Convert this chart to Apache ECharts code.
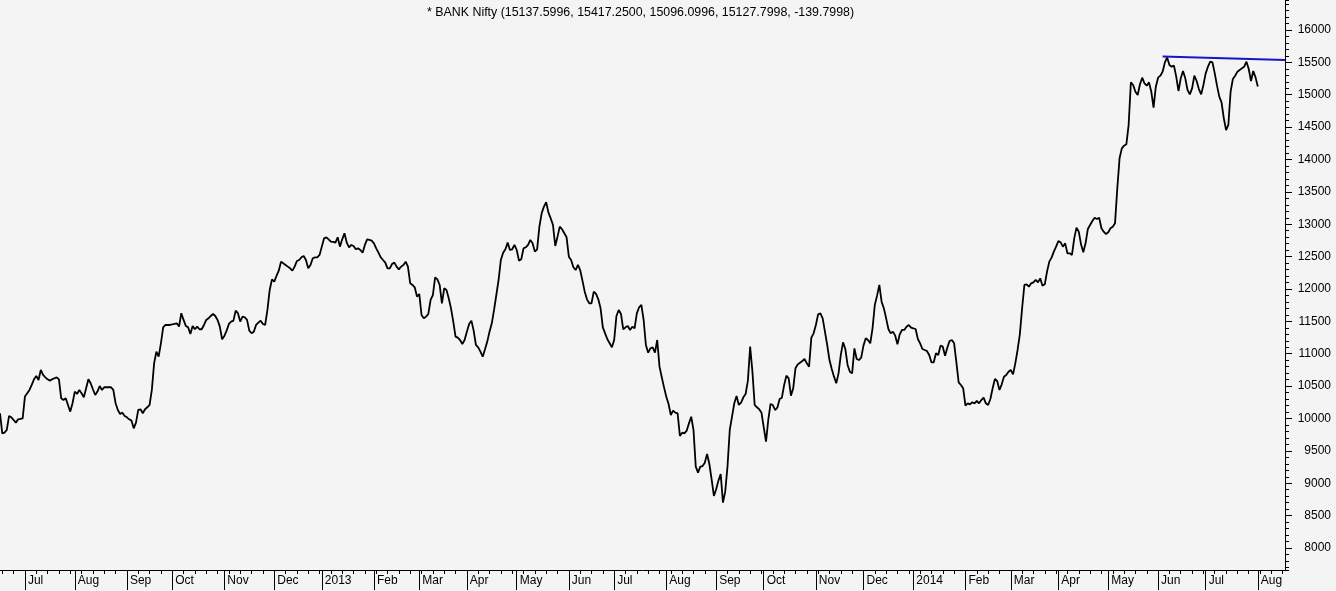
<!DOCTYPE html>
<html><head><meta charset="utf-8">
<script src="https://cdn.jsdelivr.net/npm/echarts@6/dist/echarts.min.js"></script>
<style>html,body{margin:0;padding:0;background:#f4f4f4;}#c{width:1336px;height:591px;}</style>
</head><body><div id="c"></div>
<script>
const titleText = '* BANK Nifty (15137.5996, 15417.2500, 15096.0996, 15127.7998, -139.7998)';
const firstDay = '2012-06-15';
const dayCount = 568;
const monthNames = ['Jan','Feb','Mar','Apr','May','Jun','Jul','Aug','Sep','Oct','Nov','Dec'];
const closes = [
10080,9771,9782,9823,10039,10018,9977,9936,9987,9993,
10003,10338,10389,10441,10518,10605,10657,10595,10749,10672,
10636,10605,10585,10605,10621,10636,10605,10312,10286,10312,
10209,10106,10235,10415,10379,10441,10389,10327,10466,10605,
10544,10451,10363,10415,10502,10441,10482,10482,10482,10482,
10441,10235,10132,10070,10090,10039,10018,9987,9967,9848,
9936,10132,10142,10080,10142,10173,10209,10441,10852,11033,
10955,11161,11408,11444,11444,11444,11455,11460,11470,11419,
11625,11522,11429,11408,11306,11429,11378,11419,11378,11378,
11444,11522,11547,11583,11614,11583,11522,11419,11223,11275,
11357,11460,11496,11511,11666,11625,11496,11573,11563,11522,
11357,11316,11341,11444,11480,11511,11460,11444,11676,11985,
12149,12113,12201,12283,12422,12396,12371,12345,12319,12283,
12345,12432,12448,12489,12510,12448,12319,12371,12474,12489,
12489,12525,12654,12782,12798,12767,12731,12726,12716,12798,
12654,12767,12860,12716,12644,12680,12664,12613,12628,12602,
12561,12680,12767,12757,12746,12705,12628,12561,12489,12448,
12407,12319,12319,12386,12407,12345,12304,12345,12371,12422,
12345,12087,12062,12026,11882,11923,11598,11547,11573,11614,
11830,11907,12180,12149,12062,11779,12010,11985,11856,11701,
11495,11264,11248,11212,11151,11212,11341,11460,11511,11357,
11135,11099,11032,10955,11068,11187,11341,11470,11676,11907,
12139,12448,12561,12613,12716,12602,12613,12680,12602,12438,
12458,12628,12644,12680,12757,12705,12577,12613,12963,13169,
13272,13340,13179,13091,12988,12664,12808,12963,12922,12860,
12798,12499,12448,12335,12293,12371,12293,12129,11959,11840,
11779,11779,11959,11923,11840,11701,11408,11315,11223,11161,
11099,11212,11583,11676,11614,11377,11408,11429,11367,11418,
11393,11624,11717,11753,11521,11135,11017,11084,11099,11017,
11212,10800,10636,10481,10337,10224,10054,10121,10090,10080,
9730,9781,9771,9812,9925,10028,9822,9256,9163,9256,
9266,9318,9452,9297,9060,8803,8906,9040,9143,8700,
8870,9256,9822,10028,10234,10347,10209,10245,10327,10378,
10584,11109,10723,10209,10173,10142,10090,9864,9642,9977,
10224,10208,10131,10167,10301,10321,10517,10661,10620,10352,
10466,10775,10836,10862,10888,10919,10852,10800,11248,11315,
11444,11609,11624,11547,11341,11135,10903,10764,10646,10543,
10697,10981,11176,11073,10826,10723,10697,11083,10919,10903,
10939,11125,11238,11212,11161,11392,11753,11897,12062,11804,
11701,11547,11382,11315,11341,11279,11145,11300,11367,11367,
11418,11444,11403,11392,11382,11228,11161,11073,11058,11042,
10980,10867,10867,11006,10980,11125,11109,10970,11094,11197,
11212,11161,10867,10558,10517,10466,10198,10234,10219,10250,
10234,10270,10234,10285,10321,10234,10208,10301,10466,10610,
10579,10440,10527,10646,10672,10723,10749,10682,10852,11058,
11300,11701,12062,12072,12036,12087,12103,12139,12103,12164,
12051,12072,12268,12422,12484,12576,12654,12741,12720,12654,
12705,12551,12551,12525,12782,12947,12885,12690,12566,12705,
12926,12988,13050,13101,13081,13101,12937,12885,12849,12875,
12937,12962,13014,13554,14018,14172,14213,14234,14532,15191,
15150,15047,14996,15161,15263,15176,15140,15191,15047,14800,
15124,15263,15294,15356,15500,15575,15459,15433,15449,15279,
15058,15253,15366,15253,15073,15006,15099,15294,15212,15088,
15006,15150,15330,15433,15511,15500,15330,15140,14970,14883,
14635,14455,14533,15047,15243,15294,15356,15382,15408,15433,
15511,15397,15212,15366,15268,15128
];
const trendDayIndex = [513, 567];
const trendValues = [15590, 15535];
const yMin = 7660, yMax = 16463;

function buildWeekdays(start, n) {
  const out = [];
  const d = new Date(start + 'T00:00:00Z');
  while (out.length < n) {
    const w = d.getUTCDay();
    if (w !== 0 && w !== 6) out.push(d.toISOString().slice(0, 10));
    d.setUTCDate(d.getUTCDate() + 1);
  }
  return out;
}
const dates = buildWeekdays(firstDay, dayCount);
const monthStart = dates.map((s, i) => i > 0 && s.slice(5, 7) !== dates[i - 1].slice(5, 7));
const monday = dates.map(s => new Date(s + 'T00:00:00Z').getUTCDay() === 1);
const font = '"Liberation Sans", Arial, sans-serif';

const chart = echarts.init(document.getElementById('c'), null, {renderer: 'canvas'});
chart.setOption({
  animation: false,
  backgroundColor: '#f4f4f4',
  title: {
    text: titleText, left: 422, top: 2,
    textStyle: {fontFamily: font, fontSize: 12.4, fontWeight: 'normal', color: '#000'}
  },
  grid: {left: 0, right: 51, top: 0, bottom: 21, containLabel: false},
  xAxis: [{
    type: 'category', data: dates, boundaryGap: false, position: 'bottom',
    axisLine: {show: true, lineStyle: {color: '#000', width: 1}},
    axisTick: {show: true, length: 20, interval: (i) => monthStart[i], lineStyle: {color: '#000'}},
    axisLabel: {
      show: true, interval: (i) => monthStart[i], align: 'left', margin: 5, padding: [0, 0, 0, 3],
      fontFamily: font, fontSize: 12, color: '#000',
      formatter: (v) => v.slice(5, 7) === '01' ? v.slice(0, 4) : monthNames[+v.slice(5, 7) - 1]
    },
    splitLine: {show: false}
  }, {
    type: 'category', data: dates, boundaryGap: false, position: 'bottom',
    axisLine: {show: false},
    axisTick: {show: true, length: 4, interval: (i) => monday[i], lineStyle: {color: '#000'}},
    axisLabel: {show: false}, splitLine: {show: false}
  }],
  yAxis: [{
    type: 'value', position: 'right', min: yMin, max: yMax, splitNumber: 17, scale: true,
    axisLine: {show: true, lineStyle: {color: '#000', width: 1}},
    axisTick: {show: true, length: 7, lineStyle: {color: '#000'}},
    axisLabel: {show: true, showMinLabel: false, showMaxLabel: false, align: 'right', margin: 46,
      fontFamily: font, fontSize: 12, color: '#000', formatter: (v) => String(v)},
    splitLine: {show: false}
  }, {
    type: 'value', position: 'right', min: yMin, max: yMax, splitNumber: 88, scale: true,
    axisLine: {show: false},
    axisTick: {show: true, length: 4, lineStyle: {color: '#000'}},
    axisLabel: {show: false}, splitLine: {show: false}
  }],
  series: [{
    type: 'line', data: closes, xAxisIndex: 0, yAxisIndex: 0,
    symbol: 'none', lineStyle: {color: '#000', width: 1.8}, itemStyle: {color: '#000'}
  }, {
    type: 'line', xAxisIndex: 0, yAxisIndex: 0,
    data: trendDayIndex.map((d, i) => [dates[d], trendValues[i]]),
    symbol: 'none', lineStyle: {color: '#1616c8', width: 2}, itemStyle: {color: '#1616c8'}
  }]
});
</script></body></html>
